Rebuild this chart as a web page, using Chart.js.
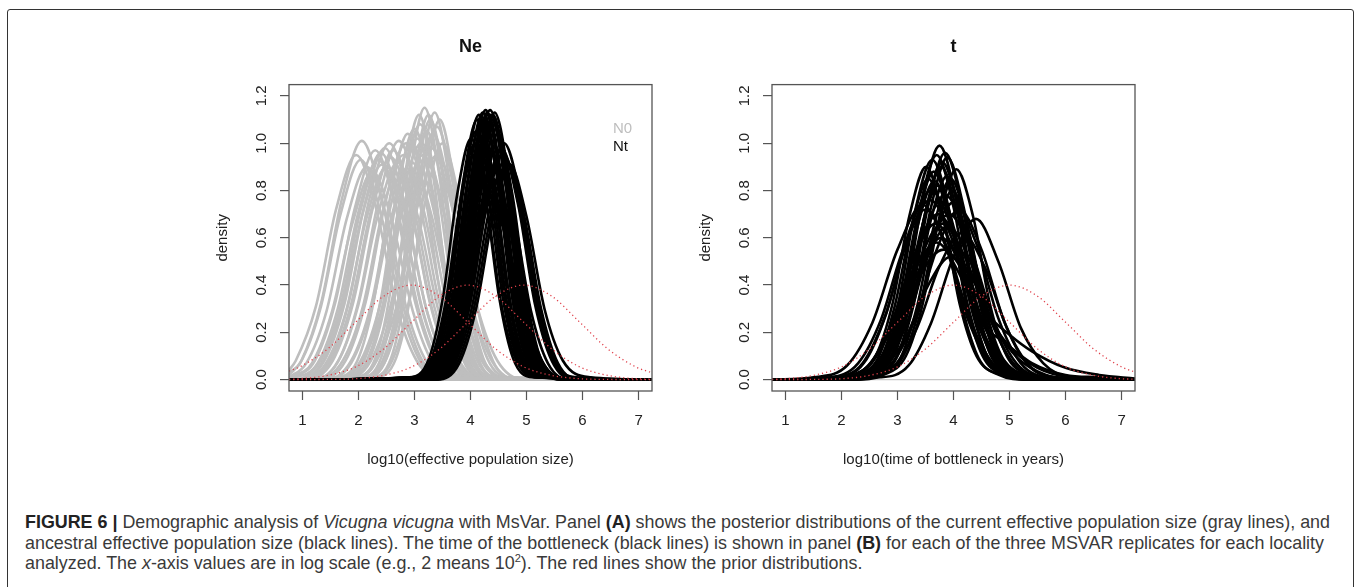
<!DOCTYPE html>
<html lang="en">
<head>
<meta charset="utf-8">
<title>Figure 6 - MsVar</title>
<script src="https://cdn.jsdelivr.net/npm/chart.js@4.4.1/dist/chart.umd.min.js"></script>
<style>
  body { margin: 0; width: 1358px; height: 587px; overflow: hidden; background: #fff; position: relative; font-family: "Liberation Sans", Arial, sans-serif; }
  .moldura { position: absolute; left: 7px; top: 9px; width: 1345px; height: 640px; border: 1.5px solid #333; border-radius: 3px; }
  canvas { position: absolute; top: 30px; }
  #grafico-ne { left: 200px; }
  #grafico-t { left: 683px; }
  .legenda { position: absolute; left: 613px; top: 119px; font-size: 15px; line-height: 18px; color: #111; }
  #legenda-figura { position: absolute; left: 25px; top: 512px; transform-origin: 0 0; font-family: "Liberation Sans Narrow", "Liberation Sans", Arial, sans-serif; font-size: 19px; line-height: 20.5px; color: #3a3a3a; }
  .linha { white-space: nowrap; }
  .linha span.medida { display: inline-block; }
  #legenda-figura b { color: #222; }
  sup { font-size: 0.62em; line-height: 0; }
</style>
</head>
<body>
<div class="moldura"></div>
<canvas id="grafico-ne" width="470" height="445"></canvas>
<canvas id="grafico-t" width="470" height="445"></canvas>
<div class="legenda"><span style="color:#bebebe">N0</span><br><span>Nt</span></div>
<div id="legenda-figura">
  <div class="linha"><span class="medida" id="linha1"><b>FIGURE 6 |</b> Demographic analysis of <i>Vicugna vicugna</i> with MsVar. Panel <b>(A)</b> shows the posterior distributions of the current effective population size (gray lines), and</span></div>
  <div class="linha">ancestral effective population size (black lines). The time of the bottleneck (black lines) is shown in panel <b>(B)</b> for each of the three MSVAR replicates for each locality</div>
  <div class="linha">analyzed. The <i>x</i>-axis values are in log scale (e.g., 2 means 10<sup>2</sup>). The red lines show the prior distributions.</div>
</div>
<script>
// eixos
const xMin = 0.76;
const xMax = 7.24;
const yMin = -0.048;
const yMax = 1.248;
const ticksX = [1, 2, 3, 4, 5, 6, 7];
const ticksY = [0, 0.2, 0.4, 0.6, 0.8, 1.0, 1.2];
const rotulosY = ["0.0", "0.2", "0.4", "0.6", "0.8", "1.0", "1.2"];

// painel A - N0 (cinza)
const curvasN0 = [
  [[0.76,0.04],[0.88,0.08],[1.24,0.31],[1.60,0.72],[1.96,0.95],[2.32,0.72],[2.68,0.31],[3.04,0.08],[3.52,0],[7.24,0]],
  [[0.76,0.02],[0.98,0.08],[1.34,0.33],[1.70,0.76],[2.06,1.01],[2.42,0.76],[2.78,0.33],[3.14,0.08],[3.62,0.01],[7.24,0]],
  [[0.76,0.03],[0.96,0.07],[1.32,0.30],[1.68,0.70],[2.04,0.93],[2.40,0.70],[2.76,0.30],[3.12,0.07],[3.60,0],[7.24,0]],
  [[0.76,0.01],[1.17,0.07],[1.53,0.29],[1.89,0.66],[2.25,0.88],[2.61,0.66],[2.97,0.29],[3.33,0.07],[3.81,0],[7.24,0]],
  [[0.76,0.01],[1.07,0.07],[1.43,0.29],[1.79,0.68],[2.15,0.90],[2.51,0.68],[2.87,0.29],[3.23,0.07],[3.71,0],[7.24,0]],
  [[0.76,0],[1.22,0.08],[1.58,0.32],[1.94,0.73],[2.30,0.97],[2.66,0.73],[3.02,0.32],[3.38,0.08],[3.86,0],[7.24,0]],
  [[0.76,0],[1.27,0.07],[1.63,0.30],[1.99,0.70],[2.35,0.93],[2.71,0.70],[3.07,0.30],[3.43,0.07],[3.91,0],[7.24,0]],
  [[0.76,0],[0.84,0],[1.32,0.08],[1.68,0.31],[2.04,0.72],[2.40,0.96],[2.76,0.72],[3.12,0.31],[3.48,0.08],[3.96,0],[7.24,0]],
  [[0.76,0],[0.86,0],[1.34,0.07],[1.70,0.30],[2.06,0.69],[2.42,0.91],[2.78,0.69],[3.14,0.30],[3.50,0.07],[3.98,0],[7.24,0]],
  [[0.76,0],[0.91,0],[1.39,0.08],[1.75,0.32],[2.11,0.74],[2.47,0.98],[2.83,0.74],[3.19,0.32],[3.55,0.08],[4.03,0],[7.24,0]],
  [[0.76,0],[0.94,0],[1.42,0.07],[1.78,0.29],[2.14,0.68],[2.50,0.90],[2.86,0.68],[3.22,0.29],[3.58,0.07],[4.06,0],[7.24,0]],
  [[0.76,0],[0.99,0],[1.47,0.08],[1.83,0.33],[2.19,0.76],[2.55,1.00],[2.91,0.76],[3.27,0.33],[3.63,0.08],[4.11,0],[7.24,0]],
  [[0.76,0],[1.02,0],[1.50,0.08],[1.86,0.31],[2.22,0.71],[2.58,0.94],[2.94,0.71],[3.30,0.31],[3.66,0.08],[4.14,0],[7.24,0]],
  [[0.76,0],[1.06,0],[1.54,0.08],[1.90,0.32],[2.26,0.73],[2.62,0.97],[2.98,0.73],[3.34,0.32],[3.70,0.08],[4.18,0],[7.24,0]],
  [[0.76,0],[1.14,0],[1.62,0.07],[1.98,0.30],[2.34,0.69],[2.70,0.92],[3.06,0.69],[3.42,0.30],[3.78,0.07],[4.26,0],[7.24,0]],
  [[0.76,0],[1.16,0],[1.64,0.08],[2.00,0.33],[2.36,0.76],[2.72,1.01],[3.08,0.76],[3.44,0.33],[3.80,0.08],[4.28,0],[7.24,0]],
  [[0.76,0],[1.24,0],[1.72,0.08],[2.08,0.31],[2.44,0.72],[2.80,0.95],[3.16,0.72],[3.52,0.31],[3.88,0.08],[4.36,0],[7.24,0]],
  [[0.76,0],[1.29,0],[1.77,0.08],[2.13,0.33],[2.49,0.76],[2.85,1.00],[3.21,0.76],[3.57,0.33],[3.93,0.08],[4.41,0],[7.24,0]],
  [[0.76,0],[1.58,0.01],[1.98,0.08],[2.28,0.34],[2.58,0.79],[2.88,1.04],[3.18,0.79],[3.48,0.34],[3.78,0.08],[4.18,0.01],[7.24,0]],
  [[0.76,0],[1.39,0],[1.87,0.08],[2.23,0.32],[2.59,0.75],[2.95,0.99],[3.31,0.75],[3.67,0.32],[4.03,0.08],[4.51,0],[7.24,0]],
  [[0.76,0],[1.39,0],[1.87,0.07],[2.23,0.30],[2.59,0.69],[2.95,0.92],[3.31,0.69],[3.67,0.30],[4.03,0.07],[4.51,0],[7.24,0]],
  [[0.76,0],[1.70,0.01],[2.10,0.08],[2.40,0.34],[2.70,0.80],[3.00,1.06],[3.30,0.80],[3.60,0.34],[3.90,0.08],[4.30,0.01],[7.24,0]],
  [[0.76,0],[1.75,0.01],[2.15,0.08],[2.45,0.33],[2.75,0.77],[3.05,1.02],[3.35,0.77],[3.65,0.33],[3.95,0.08],[4.35,0.01],[7.24,0]],
  [[0.76,0],[1.93,0.01],[2.30,0.09],[2.56,0.36],[2.82,0.85],[3.08,1.12],[3.34,0.85],[3.60,0.36],[3.86,0.09],[4.23,0.01],[7.24,0]],
  [[0.76,0],[1.80,0.01],[2.20,0.09],[2.50,0.35],[2.80,0.82],[3.10,1.08],[3.40,0.82],[3.70,0.35],[4.00,0.09],[4.40,0.01],[7.24,0]],
  [[0.76,0],[1.56,0],[2.04,0.08],[2.40,0.33],[2.76,0.76],[3.12,1.00],[3.48,0.76],[3.84,0.33],[4.20,0.08],[4.68,0],[7.24,0]],
  [[0.76,0],[1.59,0],[2.07,0.08],[2.43,0.31],[2.79,0.72],[3.15,0.95],[3.51,0.72],[3.87,0.31],[4.23,0.08],[4.71,0],[7.24,0]],
  [[0.76,0],[2.03,0.01],[2.40,0.09],[2.66,0.37],[2.92,0.87],[3.18,1.15],[3.44,0.87],[3.70,0.37],[3.96,0.09],[4.33,0.01],[7.24,0]],
  [[0.76,0],[1.92,0.01],[2.32,0.08],[2.62,0.34],[2.92,0.79],[3.22,1.05],[3.52,0.79],[3.82,0.34],[4.12,0.08],[4.52,0.01],[7.24,0]],
  [[0.76,0],[2.10,0.01],[2.47,0.09],[2.73,0.36],[2.99,0.85],[3.25,1.12],[3.51,0.85],[3.77,0.36],[4.03,0.09],[4.40,0.01],[7.24,0]],
  [[0.76,0],[2.13,0.01],[2.50,0.09],[2.76,0.36],[3.02,0.83],[3.28,1.10],[3.54,0.83],[3.80,0.36],[4.06,0.09],[4.43,0.01],[7.24,0]],
  [[0.76,0],[1.74,0],[2.22,0.08],[2.58,0.32],[2.94,0.74],[3.30,0.98],[3.66,0.74],[4.02,0.32],[4.38,0.08],[4.86,0],[7.24,0]],
  [[0.76,0],[2.03,0.01],[2.43,0.08],[2.73,0.34],[3.03,0.79],[3.33,1.04],[3.63,0.79],[3.93,0.34],[4.23,0.08],[4.63,0.01],[7.24,0]],
  [[0.76,0],[2.21,0.01],[2.58,0.09],[2.84,0.37],[3.10,0.85],[3.36,1.13],[3.62,0.85],[3.88,0.37],[4.14,0.09],[4.51,0.01],[7.24,0]],
  [[0.76,0],[2.10,0.01],[2.50,0.09],[2.80,0.35],[3.10,0.81],[3.40,1.07],[3.70,0.81],[4.00,0.35],[4.30,0.09],[4.70,0.01],[7.24,0]],
  [[0.76,0],[1.84,0],[2.32,0.08],[2.68,0.31],[3.04,0.72],[3.40,0.95],[3.76,0.72],[4.12,0.31],[4.48,0.08],[4.96,0],[7.24,0]],
  [[0.76,0],[2.30,0.01],[2.67,0.09],[2.93,0.36],[3.19,0.83],[3.45,1.10],[3.71,0.83],[3.97,0.36],[4.23,0.09],[4.60,0.01],[7.24,0]],
  [[0.76,0],[2.20,0],[2.60,0.08],[2.90,0.33],[3.20,0.76],[3.50,1.00],[3.80,0.76],[4.10,0.33],[4.40,0.08],[4.80,0],[7.24,0]]
];

// painel A - Nt (preto)
const curvasNt = [
  [[0.76,0],[2.91,0.01],[3.26,0.09],[3.51,0.35],[3.76,0.78],[4.01,1.02],[4.26,0.78],[4.51,0.35],[4.76,0.09],[5.11,0.01],[7.24,0]],
  [[0.76,0],[2.95,0.01],[3.30,0.09],[3.55,0.32],[3.80,0.72],[4.05,0.95],[4.30,0.72],[4.55,0.32],[4.80,0.09],[5.15,0.01],[7.24,0]],
  [[0.76,0],[2.98,0.01],[3.33,0.09],[3.58,0.34],[3.83,0.76],[4.08,1.00],[4.33,0.76],[4.58,0.34],[4.83,0.09],[5.18,0.01],[7.24,0]],
  [[0.76,0],[3.00,0.01],[3.35,0.09],[3.60,0.36],[3.85,0.80],[4.10,1.05],[4.35,0.80],[4.60,0.36],[4.85,0.09],[5.20,0.01],[7.24,0]],
  [[0.76,0],[3.02,0.01],[3.37,0.10],[3.62,0.37],[3.87,0.84],[4.12,1.10],[4.37,0.84],[4.62,0.37],[4.87,0.10],[5.22,0.01],[7.24,0]],
  [[0.76,0],[3.05,0.01],[3.40,0.10],[3.65,0.38],[3.90,0.85],[4.15,1.12],[4.40,0.85],[4.65,0.38],[4.90,0.10],[5.25,0.01],[7.24,0]],
  [[0.76,0],[3.08,0.01],[3.43,0.10],[3.68,0.37],[3.93,0.82],[4.18,1.08],[4.43,0.82],[4.68,0.37],[4.93,0.10],[5.28,0.01],[7.24,0]],
  [[0.76,0],[3.10,0.01],[3.45,0.09],[3.70,0.34],[3.95,0.76],[4.20,1.00],[4.45,0.76],[4.70,0.34],[4.95,0.09],[5.30,0.01],[7.24,0]],
  [[0.76,0],[3.12,0.01],[3.47,0.10],[3.72,0.38],[3.97,0.86],[4.22,1.13],[4.47,0.86],[4.72,0.38],[4.97,0.10],[5.32,0.01],[7.24,0]],
  [[0.76,0],[3.15,0.01],[3.50,0.10],[3.75,0.37],[4.00,0.84],[4.25,1.10],[4.50,0.84],[4.75,0.37],[5.00,0.10],[5.35,0.01],[7.24,0]],
  [[0.76,0],[3.17,0.01],[3.52,0.10],[3.77,0.39],[4.02,0.87],[4.27,1.14],[4.52,0.87],[4.77,0.39],[5.02,0.10],[5.37,0.01],[7.24,0]],
  [[0.76,0],[3.18,0.01],[3.53,0.09],[3.78,0.36],[4.03,0.80],[4.28,1.05],[4.53,0.80],[4.78,0.36],[5.03,0.09],[5.38,0.01],[7.24,0]],
  [[0.76,0],[3.20,0.01],[3.55,0.10],[3.80,0.38],[4.05,0.86],[4.30,1.13],[4.55,0.86],[4.80,0.38],[5.05,0.10],[5.40,0.01],[7.24,0]],
  [[0.76,0],[3.22,0.01],[3.57,0.10],[3.82,0.37],[4.07,0.82],[4.32,1.08],[4.57,0.82],[4.82,0.37],[5.07,0.10],[5.42,0.01],[7.24,0]],
  [[0.76,0],[3.25,0.01],[3.60,0.10],[3.85,0.39],[4.10,0.87],[4.35,1.14],[4.60,0.87],[4.85,0.39],[5.10,0.10],[5.45,0.01],[7.24,0]],
  [[0.76,0],[3.26,0.01],[3.61,0.10],[3.86,0.38],[4.11,0.85],[4.36,1.12],[4.61,0.85],[4.86,0.38],[5.11,0.10],[5.46,0.01],[7.24,0]],
  [[0.76,0],[3.28,0.01],[3.63,0.10],[3.88,0.37],[4.13,0.84],[4.38,1.10],[4.63,0.84],[4.88,0.37],[5.13,0.10],[5.48,0.01],[7.24,0]],
  [[0.76,0],[3.30,0.01],[3.65,0.10],[3.90,0.38],[4.15,0.85],[4.40,1.12],[4.65,0.85],[4.90,0.38],[5.15,0.10],[5.50,0.01],[7.24,0]],
  [[0.76,0],[3.32,0.01],[3.67,0.10],[3.92,0.37],[4.17,0.82],[4.42,1.08],[4.67,0.82],[4.92,0.37],[5.17,0.10],[5.52,0.01],[7.24,0]],
  [[0.76,0],[3.33,0.01],[3.68,0.10],[3.93,0.38],[4.18,0.86],[4.43,1.13],[4.68,0.86],[4.93,0.38],[5.18,0.10],[5.53,0.01],[7.24,0]],
  [[0.76,0],[3.35,0.01],[3.70,0.10],[3.95,0.36],[4.20,0.81],[4.45,1.06],[4.70,0.81],[4.95,0.36],[5.20,0.10],[5.55,0.01],[7.24,0]],
  [[0.76,0],[3.38,0.01],[3.73,0.09],[3.98,0.35],[4.23,0.79],[4.48,1.04],[4.73,0.79],[4.98,0.35],[5.23,0.09],[5.58,0.01],[7.24,0]],
  [[0.76,0],[3.40,0.01],[3.75,0.09],[4.00,0.35],[4.25,0.78],[4.50,1.02],[4.75,0.78],[5.00,0.35],[5.25,0.09],[5.60,0.01],[7.24,0]],
  [[0.76,0],[3.00,0],[3.40,0.07],[3.70,0.28],[4.00,0.65],[4.30,0.86],[4.60,0.65],[4.90,0.28],[5.20,0.07],[5.60,0],[7.24,0]],
  [[0.76,0],[3.04,0],[3.44,0.06],[3.74,0.26],[4.04,0.60],[4.34,0.80],[4.64,0.60],[4.94,0.26],[5.24,0.06],[5.64,0],[7.24,0]],
  [[0.76,0],[3.00,0],[3.45,0.06],[3.75,0.24],[4.07,0.57],[4.37,0.75],[4.67,0.57],[5.00,0.24],[5.32,0.06],[5.80,0],[7.24,0]],
  [[0.76,0],[3.10,0],[3.50,0.07],[3.80,0.28],[4.10,0.64],[4.40,0.85],[4.70,0.64],[5.00,0.28],[5.30,0.07],[5.70,0],[7.24,0]],
  [[0.76,0],[3.03,0],[3.43,0.08],[3.73,0.32],[4.03,0.74],[4.33,0.98],[4.63,0.74],[4.93,0.32],[5.23,0.08],[5.63,0],[7.24,0]],
  [[0.76,0],[3.18,0],[3.58,0.07],[3.88,0.29],[4.18,0.68],[4.48,0.90],[4.78,0.68],[5.08,0.29],[5.38,0.07],[5.78,0],[7.24,0]],
  [[0.76,0],[3.25,0],[3.65,0.08],[3.95,0.32],[4.25,0.74],[4.55,0.98],[4.85,0.74],[5.15,0.32],[5.45,0.08],[5.85,0],[7.24,0]],
  [[0.76,0],[3.28,0],[3.68,0.08],[3.98,0.31],[4.28,0.72],[4.58,0.96],[4.88,0.72],[5.18,0.31],[5.48,0.08],[5.88,0],[7.24,0]],
  [[0.76,0],[3.30,0.01],[3.70,0.08],[4.00,0.33],[4.30,0.76],[4.60,1.00],[4.90,0.76],[5.20,0.33],[5.50,0.08],[5.90,0.01],[7.24,0]],
  [[0.76,0],[3.32,0],[3.72,0.07],[4.02,0.30],[4.32,0.70],[4.62,0.93],[4.92,0.70],[5.22,0.30],[5.52,0.07],[5.92,0],[7.24,0]],
  [[0.76,0],[3.36,0],[3.76,0.07],[4.06,0.30],[4.36,0.69],[4.66,0.92],[4.96,0.69],[5.26,0.30],[5.56,0.07],[5.96,0],[7.24,0]],
  [[0.76,0],[3.40,0],[3.80,0.07],[4.10,0.30],[4.40,0.69],[4.70,0.91],[5.00,0.69],[5.32,0.30],[5.65,0.08],[6.15,0.01],[7.24,0]]
];

// painel A - priors (vermelho pontilhado)
const priorNe = [
  [[0.76,0.036],[0.95,0.054],[1.45,0.13],[1.95,0.243],[2.45,0.353],[2.95,0.40],[3.45,0.353],[3.95,0.243],[4.45,0.13],[4.95,0.054],[5.45,0.018],[5.95,0.004],[6.45,0.001],[7.24,0]],
  [[0.76,0.002],[0.95,0.004],[1.45,0.018],[1.95,0.054],[2.45,0.13],[2.95,0.243],[3.45,0.353],[3.95,0.40],[4.45,0.353],[4.95,0.243],[5.45,0.13],[5.95,0.054],[6.45,0.018],[6.95,0.004],[7.24,0.002]],
  [[0.76,0],[1.45,0.001],[1.95,0.004],[2.45,0.018],[2.95,0.054],[3.45,0.13],[3.95,0.243],[4.45,0.353],[4.95,0.40],[5.45,0.353],[5.95,0.243],[6.45,0.13],[6.95,0.054],[7.24,0.029]]
];

// painel B - t (preto)
const curvasT = [
  [[0.76,0],[1.95,0],[2.45,0.02],[2.85,0.11],[3.15,0.36],[3.45,0.76],[3.75,0.99],[4.05,0.76],[4.35,0.36],[4.65,0.11],[5.05,0.02],[5.55,0],[7.24,0]],
  [[0.76,0],[1.71,0],[2.21,0.02],[2.61,0.10],[2.91,0.32],[3.21,0.69],[3.51,0.90],[3.81,0.69],[4.11,0.32],[4.41,0.10],[4.81,0.02],[5.31,0],[7.24,0]],
  [[0.76,0],[1.82,0],[2.32,0.02],[2.72,0.10],[3.02,0.33],[3.32,0.72],[3.62,0.93],[3.92,0.72],[4.22,0.33],[4.52,0.10],[4.92,0.02],[5.42,0],[7.24,0]],
  [[0.76,0],[1.90,0],[2.40,0.02],[2.80,0.10],[3.10,0.34],[3.40,0.73],[3.70,0.95],[4.00,0.73],[4.30,0.34],[4.60,0.10],[5.00,0.02],[5.50,0],[7.24,0]],
  [[0.76,0],[1.98,0],[2.48,0.02],[2.88,0.10],[3.18,0.32],[3.48,0.69],[3.78,0.90],[4.08,0.69],[4.38,0.32],[4.68,0.10],[5.08,0.02],[5.58,0],[7.24,0]],
  [[0.76,0],[2.05,0],[2.55,0.02],[2.95,0.11],[3.25,0.35],[3.55,0.74],[3.85,0.96],[4.15,0.74],[4.45,0.35],[4.75,0.11],[5.15,0.02],[5.65,0],[7.24,0]],
  [[0.76,0],[2.09,0],[2.59,0.02],[2.99,0.10],[3.29,0.34],[3.59,0.72],[3.89,0.94],[4.19,0.72],[4.49,0.34],[4.79,0.10],[5.19,0.02],[5.69,0],[7.24,0]],
  [[0.76,0],[2.25,0],[2.75,0.02],[3.15,0.10],[3.45,0.32],[3.75,0.69],[4.05,0.89],[4.35,0.69],[4.65,0.32],[4.95,0.10],[5.35,0.02],[5.85,0],[7.24,0]],
  [[0.76,0],[2.00,0],[2.50,0.02],[2.90,0.10],[3.20,0.33],[3.50,0.71],[3.80,0.92],[4.10,0.71],[4.40,0.33],[4.70,0.10],[5.10,0.02],[5.60,0],[7.24,0]],
  [[0.76,0],[1.85,0],[2.35,0.02],[2.75,0.10],[3.05,0.32],[3.35,0.68],[3.65,0.88],[3.95,0.68],[4.25,0.32],[4.55,0.10],[4.95,0.02],[5.45,0],[7.24,0]],
  [[0.76,0],[1.86,0],[2.36,0.02],[2.76,0.09],[3.06,0.30],[3.36,0.65],[3.66,0.84],[3.96,0.65],[4.26,0.30],[4.56,0.09],[4.96,0.02],[5.46,0],[7.24,0]],
  [[0.76,0],[1.92,0],[2.42,0.02],[2.82,0.09],[3.12,0.30],[3.42,0.63],[3.72,0.82],[4.02,0.63],[4.32,0.30],[4.62,0.09],[5.02,0.02],[5.52,0],[7.24,0]],
  [[0.76,0],[2.15,0],[2.65,0.02],[3.05,0.09],[3.35,0.31],[3.65,0.65],[3.95,0.85],[4.25,0.65],[4.55,0.31],[4.85,0.09],[5.25,0.02],[5.75,0],[7.24,0]],
  [[0.76,0],[2.18,0],[2.68,0.02],[3.08,0.09],[3.38,0.29],[3.68,0.62],[3.98,0.80],[4.28,0.62],[4.58,0.29],[4.88,0.09],[5.28,0.02],[5.78,0],[7.24,0]],
  [[0.76,0],[2.08,0],[2.58,0.02],[2.98,0.09],[3.28,0.31],[3.58,0.66],[3.88,0.86],[4.18,0.66],[4.48,0.31],[4.78,0.09],[5.18,0.02],[5.68,0],[7.24,0]],
  [[0.76,0],[1.75,0],[2.25,0.02],[2.65,0.09],[2.95,0.31],[3.25,0.65],[3.55,0.85],[3.85,0.65],[4.15,0.31],[4.45,0.09],[4.85,0.02],[5.35,0],[7.24,0]],
  [[0.76,0],[1.90,0.01],[2.40,0.07],[2.80,0.28],[3.20,0.62],[3.60,0.80],[4.00,0.62],[4.40,0.28],[4.80,0.07],[5.30,0.01],[7.24,0]],
  [[0.76,0],[1.88,0.01],[2.38,0.07],[2.78,0.27],[3.18,0.59],[3.58,0.76],[3.98,0.59],[4.38,0.27],[4.78,0.07],[5.28,0.01],[7.24,0]],
  [[0.76,0],[2.15,0.01],[2.65,0.07],[3.05,0.27],[3.45,0.60],[3.85,0.78],[4.25,0.60],[4.65,0.27],[5.05,0.07],[5.55,0.01],[7.24,0]],
  [[0.76,0],[2.30,0.01],[2.80,0.07],[3.20,0.26],[3.60,0.58],[4.00,0.75],[4.40,0.58],[4.80,0.26],[5.20,0.07],[5.70,0.01],[7.24,0]],
  [[0.76,0],[2.02,0.01],[2.52,0.07],[2.92,0.25],[3.32,0.54],[3.72,0.70],[4.12,0.54],[4.52,0.25],[4.92,0.07],[5.42,0.01],[7.24,0]],
  [[0.76,0],[2.22,0.01],[2.72,0.07],[3.12,0.25],[3.52,0.54],[3.92,0.70],[4.32,0.54],[4.72,0.25],[5.12,0.07],[5.62,0.01],[7.24,0]],
  [[0.76,0],[2.20,0.01],[2.70,0.06],[3.10,0.23],[3.50,0.50],[3.90,0.65],[4.30,0.50],[4.70,0.23],[5.10,0.06],[5.60,0.01],[7.24,0]],
  [[0.76,0],[2.08,0.01],[2.58,0.06],[2.98,0.21],[3.38,0.46],[3.78,0.60],[4.18,0.46],[4.58,0.21],[4.98,0.06],[5.48,0.01],[7.24,0]],
  [[0.76,0],[2.40,0.01],[2.90,0.07],[3.30,0.25],[3.70,0.55],[4.10,0.72],[4.50,0.55],[4.90,0.25],[5.30,0.07],[5.80,0.01],[7.24,0]],
  [[0.76,0],[2.45,0.01],[2.95,0.06],[3.35,0.22],[3.75,0.48],[4.15,0.62],[4.55,0.48],[4.95,0.22],[5.35,0.06],[5.85,0.01],[7.24,0]],
  [[0.76,0],[1.80,0.01],[2.30,0.07],[2.70,0.25],[3.10,0.55],[3.50,0.72],[3.90,0.55],[4.30,0.25],[4.70,0.07],[5.20,0.01],[7.24,0]],
  [[0.76,0],[1.98,0.01],[2.48,0.06],[2.88,0.23],[3.28,0.51],[3.68,0.66],[4.08,0.51],[4.48,0.23],[4.88,0.06],[5.38,0.01],[7.24,0]],
  [[0.76,0],[1.50,0.01],[2.10,0.06],[2.55,0.24],[3.00,0.55],[3.45,0.74],[3.85,0.57],[4.25,0.26],[4.65,0.07],[5.15,0.01],[7.24,0]],
  [[0.76,0],[2.70,0.01],[3.20,0.06],[3.60,0.24],[4.00,0.52],[4.40,0.68],[4.80,0.50],[5.20,0.22],[5.60,0.07],[6.10,0.01],[7.24,0]],
  [[0.76,0],[2.10,0.01],[2.60,0.06],[3.00,0.23],[3.40,0.51],[3.80,0.66],[4.20,0.52],[4.60,0.28],[5.00,0.14],[5.50,0.05],[6.10,0.01],[7.24,0]],
  [[0.76,0],[2.10,0.01],[2.60,0.05],[3.00,0.20],[3.40,0.44],[3.82,0.55],[4.20,0.45],[4.60,0.28],[5.00,0.19],[5.40,0.12],[6.00,0.05],[6.60,0.02],[7.24,0.005]],
  [[0.76,0],[2.00,0.01],[2.50,0.06],[2.90,0.22],[3.30,0.46],[3.70,0.58],[4.10,0.45],[4.50,0.24],[4.90,0.16],[5.40,0.07],[6.00,0.02],[6.60,0.01],[7.24,0]],
  [[0.76,0],[2.25,0.01],[2.75,0.05],[3.15,0.18],[3.55,0.40],[3.95,0.52],[4.35,0.42],[4.75,0.22],[5.15,0.09],[5.65,0.02],[6.20,0],[7.24,0]]
];

// painel B - priors
const priorT = [
  [[0.76,0.002],[1.0,0.004],[1.5,0.018],[2.0,0.054],[2.5,0.13],[3.0,0.243],[3.5,0.353],[4.0,0.40],[4.5,0.353],[5.0,0.243],[5.5,0.13],[6.0,0.054],[6.5,0.018],[7.0,0.004],[7.24,0.002]],
  [[0.76,0],[1.5,0.001],[2.0,0.004],[2.5,0.018],[3.0,0.054],[3.5,0.13],[4.0,0.243],[4.5,0.353],[5.0,0.40],[5.5,0.353],[6.0,0.243],[6.5,0.13],[7.0,0.054],[7.24,0.032]]
];

const fonte = "'Liberation Sans', Arial, sans-serif";
Chart.defaults.font.family = fonte;
Chart.defaults.color = "#222";

function serie(pontos, cor, largura, tracejado) {
  return {
    data: pontos,
    borderColor: cor,
    borderWidth: largura,
    borderDash: tracejado || [],
    pointRadius: 0,
    fill: false,
    cubicInterpolationMode: "monotone"
  };
}

// caixa em volta da area do grafico (estilo R)
const moldura = {
  id: "moldura",
  afterDatasetsDraw(chart) {
    const { ctx, chartArea: a } = chart;
    ctx.save();
    ctx.strokeStyle = "#555";
    ctx.lineWidth = 1.3;
    ctx.strokeRect(a.left, a.top, a.right - a.left, a.bottom - a.top);
    ctx.restore();
  }
};

function criarGrafico(id, titulo, rotuloX, datasets) {
  return new Chart(document.getElementById(id), {
    type: "line",
    data: { datasets },
    options: {
      responsive: false,
      animation: false,
      events: [],
      layout: { padding: { left: 0, right: 18, top: 0, bottom: 0 } },
      plugins: {
        legend: { display: false },
        tooltip: { enabled: false },
        title: {
          display: true,
          text: titulo,
          fullSize: false,
          color: "#111",
          font: { size: 18, weight: "bold" },
          padding: { top: 6, bottom: 27 }
        }
      },
      scales: {
        x: {
          type: "linear",
          min: xMin,
          max: xMax,
          afterBuildTicks: (escala) => { escala.ticks = ticksX.map(v => ({ value: v })); },
          afterFit: (escala) => { escala.height = 84; },
          ticks: { font: { size: 15 }, color: "#222", padding: 12, autoSkip: false, maxRotation: 0 },
          grid: { drawOnChartArea: false, drawTicks: true, tickLength: 9, tickColor: "#555", tickWidth: 1.2 },
          border: { display: false },
          title: { display: true, text: rotuloX, font: { size: 15 }, color: "#222", padding: { top: 0, bottom: 6 } }
        },
        y: {
          min: yMin,
          max: yMax,
          afterBuildTicks: (escala) => { escala.ticks = ticksY.map(v => ({ value: v })); },
          afterFit: (escala) => { escala.width = 89; },
          ticks: {
            font: { size: 15 },
            color: "#222",
            padding: 8,
            minRotation: 90,
            maxRotation: 90,
            crossAlign: "center",
            autoSkip: false,
            callback: (valor) => rotulosY[ticksY.findIndex(v => Math.abs(v - valor) < 1e-6)]
          },
          grid: {
            drawOnChartArea: true,
            drawTicks: true,
            tickLength: 9,
            tickColor: "#555",
            tickWidth: 1.2,
            lineWidth: 1.2,
            color: (ctx) => (ctx.tick && ctx.tick.value === 0 ? "#c8c8c8" : "rgba(0,0,0,0)")
          },
          border: { display: false },
          title: { display: true, text: "density", font: { size: 15 }, color: "#222", padding: { top: 14, bottom: 0 } }
        }
      }
    },
    plugins: [moldura]
  });
}

const vermelho = "#e0404a";

const grafNe = criarGrafico("grafico-ne", "Ne", "log10(effective population size)", [
  ...priorNe.map(p => serie(p, vermelho, 1.3, [1.2, 3])),
  ...curvasNt.map(p => serie(p, "#000000", 2.6)),
  ...curvasN0.map(p => serie(p, "#bebebe", 2.6))
]);

const grafT = criarGrafico("grafico-t", "t", "log10(time of bottleneck in years)", [
  ...priorT.map(p => serie(p, vermelho, 1.3, [1.2, 3])),
  ...curvasT.map(p => serie(p, "#000000", 2.6))
]);

// ajusta a legenda da figura na largura do original
const larguraLinha1 = document.getElementById("linha1").getBoundingClientRect().width;
document.getElementById("legenda-figura").style.transform = `scaleX(${1305 / larguraLinha1})`;
</script>
</body>
</html>
